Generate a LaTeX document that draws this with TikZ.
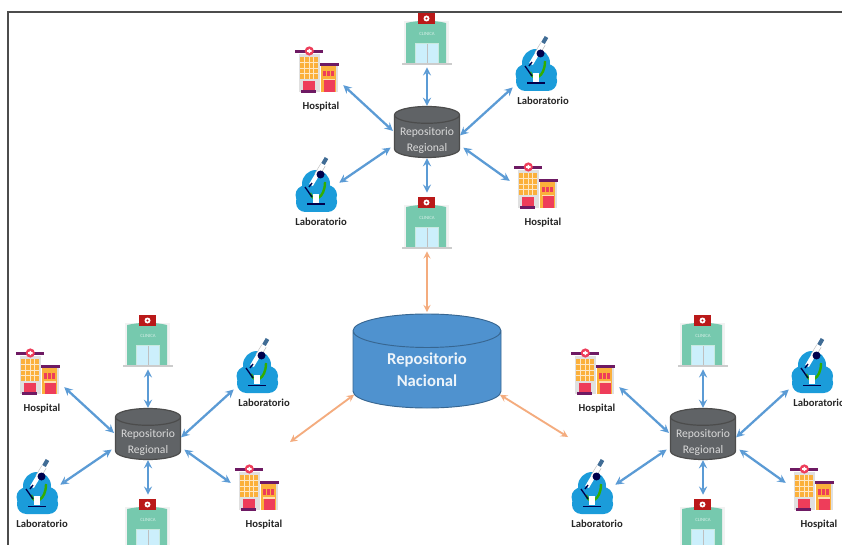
\documentclass[tikz,border=0pt]{standalone}
\usepackage{fontspec}
\setmainfont{Carlito}
\usetikzlibrary{shapes.geometric}
\definecolor{azulflecha}{HTML}{5B9BD5}
\definecolor{naranja}{HTML}{F4AC7E}
\definecolor{azulrepo}{HTML}{4F92CF}
\definecolor{grisrepo}{HTML}{606366}
\definecolor{morado}{HTML}{6E1A63}
\definecolor{rojo}{HTML}{EE3D5A}
\definecolor{amarillo}{HTML}{FBB03B}
\definecolor{turquesa}{HTML}{76C9AE}
\definecolor{nube}{HTML}{1B9CDA}
\tikzset{
  flecha/.style={<->,>=stealth,azulflecha,line width=1.7pt},
  flechan/.style={<->,>=stealth,naranja,line width=1.4pt},
  reporeg/.style={cylinder,shape border rotate=90,aspect=0.36,draw=black!70,line width=0.9pt,
    anchor=shape center,
    cylinder uses custom fill,cylinder body fill=grisrepo,cylinder end fill=grisrepo,
    minimum width=48.75pt,minimum height=38.25pt,inner sep=0pt,
    text width=35pt,text height=8pt,text depth=5pt},
  textoreg/.style={inner sep=0pt,align=center,text=white!85!black,font=\fontsize{8.7}{11.5}\selectfont},
  reponac/.style={cylinder,shape border rotate=90,aspect=0.42,draw=azulrepo!70!black,line width=0.7pt,
    anchor=shape center,
    cylinder uses custom fill,cylinder body fill=azulrepo,cylinder end fill=azulrepo,
    minimum width=111pt,minimum height=70.5pt,inner sep=0pt,align=center,
    text=white!90!azulrepo,font=\fontsize{12.5}{17}\selectfont\bfseries},
  etiq/.style={inner sep=0pt,font=\fontsize{8}{9}\selectfont\bfseries,text=black!85},
  iconH/.style={minimum width=39pt,minimum height=37.5pt,inner sep=0pt},
  iconL/.style={minimum width=34.5pt,minimum height=37.5pt,inner sep=0pt},
  iconC/.style={minimum width=37.5pt,minimum height=43.5pt,inner sep=0pt},
  hospital/.pic={
    \fill[black!12] (-18,-16) rectangle (3,22);
    \fill[amarillo] (-17,-13) rectangle (1,9);
    \foreach \i in {1,2,3} \fill[white!70!amarillo] (-17+\i*4.5-0.3,-13) rectangle ++(0.6,22);
    \foreach \j in {1,2,3} \fill[white!70!amarillo] (-17,-13+\j*5.5-0.3) rectangle ++(18,0.6);
    \fill[rojo] (-14.5,11) rectangle (-2.5,20);
    \fill[morado] (-16,20) rectangle (-1,23);
    \fill[morado] (-22,-20) rectangle (6,-17);
    \fill[rojo] (-7.7,-19) circle (4.6);
    \fill[white] (-9.9,-19.8) rectangle (-5.5,-18.2) (-8.5,-21.2) rectangle (-6.9,-16.8);
    \fill[black!12] (4,-5) rectangle (21,22);
    \fill[amarillo] (4,-4) rectangle (19,22);
    \fill[morado] (3,-7) rectangle (22,-4);
    \fill[rojo] (6,1) rectangle (17,6.5);
    \foreach \i in {1,2} \fill[amarillo] (6+\i*3.7-0.4,1) rectangle ++(0.8,5.5);
    \fill[white!60!amarillo] (6,9) rectangle (18,10.5);
    \fill[rojo] (7,10.5) rectangle (18,22);
  },
  clinica/.pic={
    \fill[black!5] (-23,-17) rectangle (22,25);
    \fill[turquesa] (-21,-15) .. controls (-7,-18) and (6,-18) .. (19,-15) -- (19,25) -- (-21,25) -- cycle;
    \fill[white!60!turquesa] (-12,5) rectangle (12,25);
    \fill[white!80!cyan] (-11,6) rectangle (11,25);
    \draw[black!25,line width=0.3pt] (0,6) -- (0,25);
    \fill[black!20] (-25,25) rectangle (25,27);
    \fill[red!70!black!90] (-9,-25) rectangle (8,-14);
    \fill[white] (-0.5,-19.5) circle (3);
    \fill[red!70!black!90] (-0.5,-19.5) circle (1.2);
    \node[inner sep=0pt,text=white!70!turquesa,font=\fontsize{3.6}{4}\selectfont] (cli) at (0,-4) {CLINICA};
  },
  lab/.pic={
    \fill[nube] (0,-2) circle (14) (-11,9) circle (9.5) (11,9) circle (10);
    \fill[nube,rounded corners=7] (-20,6) rectangle (21,26);
    \draw[green!60!black!80!yellow,line width=1.8pt] (-6,7) .. controls (-3,17) and (9,13) .. (9,-4);
    \draw[black!25,line width=4.2pt] (7,-21) -- (1,-11);
    \draw[white,line width=3.2pt] (7.5,-22) -- (-5,-1);
    \draw[azulflecha!70!black,line width=3pt] (10.5,-28) -- (7,-22);
    \fill[black!70!blue] (4.5,-11.5) circle (4);
    \draw[black!70!blue,line width=1pt] (-11,1) -- (-4,11);
    \draw[black!70!blue,line width=1pt] (-4,-3) -- (-7,1);
    \fill[white] (-3,8) rectangle (2.5,17);
    \fill[black!70!blue] (-9,17.5) rectangle (9,19);
  }
}
\begin{document}
\begin{tikzpicture}[x=0.75pt,y=-0.75pt]
\useasboundingbox (0,0) rectangle (842,545);
\clip (0,0) rectangle (842,545);
\fill[white] (0,0) rectangle (842,545);
\draw[black!70,line width=0.8pt] (8,545) -- (8,12) -- (842,12);
%% regional groups
\foreach \n/\cx/\cy in {A/427/132,B/148/434,C/703/434}{
\begin{scope}[shift={(\cx,\cy)}]
%% nodes
\node[reporeg] (R\n) at (0,0) {};
\node[textoreg] (TR\n) at (0,8.5) {Repositorio\\Regional};
\node[iconC] (C\n1) at (0,-94) {};
\node[iconH] (H\n1) at (-110,-62) {};
\node[iconL] (L\n1) at (109,-67) {};
\node[iconL] (L\n2) at (-111,54) {};
\node[iconH] (H\n2) at (109,54) {};
\node[iconC] (C\n2) at (0,90) {};
\pic at (C\n1) {clinica};
\pic at (H\n1) {hospital};
\pic at (L\n1) {lab};
\pic at (L\n2) {lab};
\pic at (H\n2) {hospital};
\pic at (C\n2) {clinica};
\node[etiq] (TH\n1) at (-106,-25.5) {Hospital};
\node[etiq] (TL\n1) at (116,-31.5) {Laboratorio};
\node[etiq] (TL\n2) at (-106,90) {Laboratorio};
\node[etiq] (TH\n2) at (116,91) {Hospital};
%%% edges
\draw[flecha] (R\n.top) -- (C\n1.south);
\draw[flecha,shorten <=1pt] (R\n.172) -- (H\n1.-30);
\draw[flecha] (R\n.2) -- (L\n1.224);
\draw[flecha,shorten <=3pt] (R\n.195) -- (L\n2.8);
\draw[flecha,shorten <=3pt] (R\n.-15) -- (H\n2.169);
\draw[flecha] (R\n.bottom) -- (C\n2.north);
\end{scope}
}
%% national node
\node[reponac] (RN) at (427,361) {Repositorio\\Nacional};
\coordinate (FI) at (290,442);
\coordinate (FD) at (568,437);
%%% edges
\draw[flechan,shorten >=1pt] (CA2.south) -- (RN.top);
\draw[flechan] (RN.199) -- (FI);
\draw[flechan] (RN.-19) -- (FD);
\end{tikzpicture}
\end{document}
